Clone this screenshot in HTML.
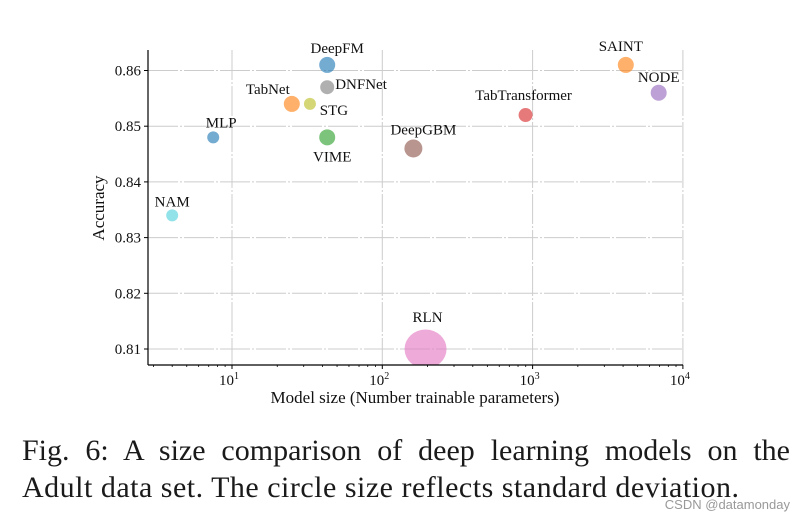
<!DOCTYPE html>
<html><head><meta charset="utf-8"><style>
body{margin:0;background:#fff;width:804px;height:520px;overflow:hidden;position:relative}
svg{display:block;position:absolute;left:0;top:0}
text{font-family:"Liberation Serif",serif;fill:#111}
.cap{position:absolute;left:22px;width:768px;font-family:"Liberation Serif",serif;font-size:30px;letter-spacing:0.5px;color:#1a1a1a;line-height:37px;white-space:nowrap}
#cap1{top:432px;text-align:justify;text-align-last:justify;white-space:normal;letter-spacing:0}
#cap2{top:469px}
#wm{position:absolute;right:14px;top:497px;font-family:"Liberation Sans",sans-serif;font-size:13px;color:#999}
</style></head><body>
<svg id="chart" width="804" height="520">
<defs><clipPath id="plotclip"><rect x="148" y="40" width="540" height="325"/></clipPath></defs>
<g id="grid"></g>
<g id="pts" clip-path="url(#plotclip)"></g>
<g id="labels"></g>
<g id="axes"></g>
<text x="104" y="208" font-size="17" transform="rotate(-90 104 208)" text-anchor="middle">Accuracy</text>
<text x="415" y="403" font-size="17" text-anchor="middle">Model size (Number trainable parameters)</text>
</svg>
<div class="cap" id="cap1">Fig. 6: A size comparison of deep learning models on the</div>
<div class="cap" id="cap2">Adult data set. The circle size reflects standard deviation.</div>
<div id="wm">CSDN @datamonday</div>
<script>
const models=["NAM","MLP","TabNet","STG","DeepFM","DNFNet","VIME","DeepGBM","RLN","TabTransformer","SAINT","NODE"];
const sizes=[4,7.5,25,33,43,43,43,161,194,898,4170,6900];
const accuracy=[0.834,0.848,0.854,0.854,0.861,0.857,0.848,0.846,0.810,0.852,0.861,0.856];
const radii=[6,6,8,6,8,7,8,9,21,7,8,8];
const colors=["#4fd0dc","#1f77b4","#ff7f0e","#bcbd22","#1f77b4","#7f7f7f","#2ca02c","#8c564b","#e377c2","#d62728","#ff7f0e","#9467bd"];
const yTicks=[0.81,0.82,0.83,0.84,0.85,0.86];
const xTicks=[1,2,3,4];
const NS="http://www.w3.org/2000/svg";
const L=148,R=683,T=50,B=365;
function xs(v){return 232+(Math.log10(v)-1)*150.3;}
function ys(v){return 349-(v-0.81)*5570;}
function mk(tag,a,p){const e=document.createElementNS(NS,tag);for(const k in a)e.setAttribute(k,a[k]);p.appendChild(e);return e;}
const grid=document.getElementById('grid'),axes=document.getElementById('axes'),pts=document.getElementById('pts'),labels=document.getElementById('labels');
yTicks.forEach(t=>{const y=ys(t);
const g=mk('line',{x1:L,x2:R,y1:y,y2:y,stroke:'#cccccc','stroke-width':1,'stroke-dasharray':'30 2 2 2'},grid);


mk('line',{x1:L-4,x2:L,y1:y,y2:y,stroke:'#000'},axes);
const tx=mk('text',{x:L-7,y:y+5,'font-size':15,'text-anchor':'end'},axes);tx.textContent=t.toFixed(2);

});
xTicks.forEach(d=>{const x=xs(Math.pow(10,d));
const g=mk('line',{x1:x,x2:x,y1:T,y2:B,stroke:'#cccccc','stroke-width':1,'stroke-dasharray':'30 2 2 2'},grid);


mk('line',{x1:x,x2:x,y1:B,y2:B+4,stroke:'#000'},axes);
const tx=mk('text',{x:x-3,y:B+20,'font-size':15,'text-anchor':'middle'},axes);tx.innerHTML='10<tspan dy="-6" font-size="10">'+d+'</tspan>';

});
for(let d=0;d<4;d++)for(let m=2;m<10;m++){const v=m*Math.pow(10,d);if(v<2.75)continue;const x=xs(v);mk('line',{x1:x,x2:x,y1:B,y2:B+2,stroke:'#000','stroke-width':0.8},axes);}
mk('line',{x1:L,x2:L,y1:T,y2:B,stroke:'#000','stroke-width':1.2},axes);
mk('line',{x1:L,x2:R,y1:B,y2:B,stroke:'#000','stroke-width':1.2},axes);
const off={NAM:[0,-9,'middle'],MLP:[8,-10,'middle'],TabNet:[-24,-10,'middle'],STG:[24,11,'middle'],DeepFM:[10,-12,'middle'],DNFNet:[8,2,'start'],VIME:[5,24,'middle'],DeepGBM:[10,-14,'middle'],RLN:[2,-27,'middle'],TabTransformer:[-2,-15,'middle'],SAINT:[-5,-14,'middle'],NODE:[0,-11,'middle']};
models.forEach((m,i)=>{const cx=xs(sizes[i]),cy=ys(accuracy[i]);
const c=mk('ellipse',{cx:cx,cy:cy,rx:radii[i],ry:(m==='RLN'?radii[i]*0.93:radii[i]),fill:colors[i],'fill-opacity':0.62},pts);


const o=off[m];const t=mk('text',{x:cx+o[0],y:cy+o[1],'font-size':15,'text-anchor':o[2]},labels);t.textContent=m;

});
</script>
</body></html>
